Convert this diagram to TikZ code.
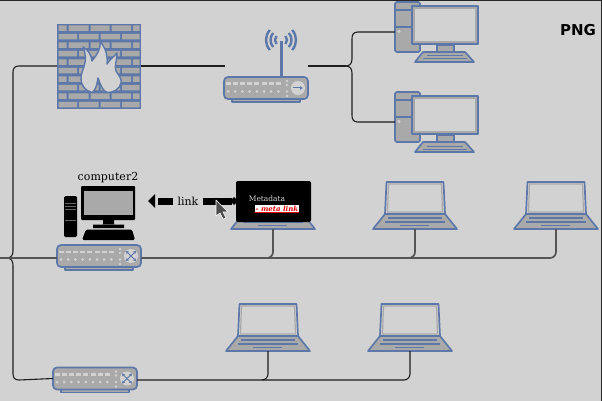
\documentclass[tikz,border=0pt]{standalone}
\usepackage{fontspec}
\setmainfont{DejaVu Serif}
\newfontfamily\labelsans{DejaVu Sans}
\usetikzlibrary{positioning,calc,arrows.meta}

\definecolor{bgGray}{HTML}{D2D2D2}
\definecolor{devBlue}{HTML}{5D78A8}
\definecolor{devFill}{HTML}{A9A9A9}
\definecolor{wireDark}{HTML}{1E1E1E}
\definecolor{wireGray}{HTML}{555555}

\tikzset{
  devline/.style={draw=devBlue, line width=1.7pt, line join=round},
  devbody/.style={devline, fill=devFill},
  devscreen/.style={draw=devFill, line width=1.2pt, fill=bgGray},
  hitbox/.style={inner sep=0pt, outer sep=0pt},
  % laptop: origin is the middle of the lower edge
  pics/laptop/.style={code={
    \node[hitbox, minimum width=84pt, minimum height=47pt] (-box) at (0,-23.5) {};
    \draw[devline, fill=bgGray] (-28.5,-47) -- (28.5,-47) -- (30,-15) -- (-30,-15) -- cycle;
    \draw[devscreen] (-26.5,-45) -- (26.5,-45) -- (27.5,-17) -- (-27.5,-17) -- cycle;
    \draw[devbody] (-30,-15) -- (30,-15) -- (42,0) -- (-42,0) -- cycle;
    \draw[draw=devBlue, line width=1.2pt] (-27,-11) -- (27,-11) (-30,-7) -- (30,-7) (-15,-3.5) -- (14,-3.5);
  }},
  % desktop: origin is the top left of the tower
  pics/desktop/.style={code={
    \node[hitbox, minimum width=84pt, minimum height=60pt] (-box) at (42,30) {};
    \draw[devbody, rounded corners=1.5pt] (0,0) -- (25,0) -- (25,50) -- (0,50) -- cycle;
    \draw[devline] (0,8) -- (25,8) (0,25) -- (25,25);
    \fill[bgGray] (4,29.5) circle (1.6);
    \draw[devline, fill=bgGray] (17,4) rectangle (83,42);
    \draw[devscreen] (19,6) rectangle (81,40);
    \draw[devbody] (42,43) rectangle (59,50);
    \draw[devbody] (28,50) -- (70,50) -- (79,60) -- (20,60) -- cycle;
    \draw[draw=devBlue, line width=1pt] (32,54) -- (68,54) (28,57) -- (72,57);
  }},
  % rack device without its icon: origin is the middle of the body
  pics/rackdev/.style={code={
    \node[hitbox, minimum width=84pt, minimum height=26pt] (-box) at (0,0) {};
    \draw[devbody] (-34,10) rectangle (34,14);
    \draw[devbody, rounded corners=4pt] (-42,-11) rectangle (42,11);
    \foreach \i in {0,...,7} {
      \fill[bgGray] ({-38+7.2*\i-2.5},-5.5) rectangle ++(5,2.5);
      \fill[bgGray] ({-38+7.2*\i},3.5) circle (1.5);
    }
    \foreach \j in {-7,-3,3.5,8} \fill[bgGray] (21,\j) circle (1.4);
    \fill[bgGray] (32,0) circle (7);
  }},
  pics/hubcross/.style={code={
    \draw[draw=devBlue, line width=1pt, {Latex[length=2.5pt,width=3.5pt]}-{Latex[length=2.5pt,width=3.5pt]}] (-5,-5) -- (5,5);
    \draw[draw=devBlue, line width=1pt, {Latex[length=2.5pt,width=3.5pt]}-{Latex[length=2.5pt,width=3.5pt]}] (-5,5) -- (5,-5);
  }}
}

\begin{document}
\begin{tikzpicture}[
  x=1pt, y=-1pt,
  wire/.style={draw=wireDark, line width=1.1pt, rounded corners=6pt},
  bracewire/.style={draw=wireDark, line width=1.1pt},
  lanwire/.style={draw=wireGray, line width=1.7pt, rounded corners=6pt},
  linkbar/.style={draw=black, line width=7pt},
  tag/.style={font=\fontsize{11}{13}\selectfont, text=black, inner sep=0pt}
]
  \useasboundingbox (0,0) rectangle (602,401);
  \fill[bgGray] (0,0) rectangle (602,401);
  \fill[black!85] (0,0) rectangle (602,1.5);
  \fill[black!85] (600.5,0) rectangle (602,401);

  % firewall
  \node[hitbox, minimum width=84pt, minimum height=85pt] (wall) at (99,66) {};
  \fill[devBlue] (57,24) rectangle (141,109);
  \foreach \r in {0,2,4,6,8} {
    \fill[devFill, yshift=-\r*8.5pt] (58.5,25.5) rectangle (66.5,31)
      (68.5,25.5) rectangle (88.5,31) (90.5,25.5) rectangle (109.5,31)
      (111.5,25.5) rectangle (131,31) (133,25.5) rectangle (139.5,31);
    \fill[devFill, yshift=-\r*8.5pt] (58.5,34) rectangle (77,39.5)
      (79,34) rectangle (98.5,39.5) (100.5,34) rectangle (120,39.5)
      (122,34) rectangle (139.5,39.5);
  }
  \draw[devline, fill=bgGray, line width=1.4pt] (92,92.5) .. controls (85,91) and (80,84) .. (81,77)
    .. controls (82,68) and (89,62) .. (83,47)
    .. controls (88,50) and (91,54) .. (92,61)
    .. controls (97,54) and (101,50) .. (100,41)
    .. controls (106,49) and (108,56) .. (107,64)
    .. controls (110,59) and (114,57) .. (117,53)
    .. controls (117,61) and (114,66) .. (116,71)
    .. controls (119,76) and (122,79) .. (121,83)
    .. controls (120,89) and (113,93) .. (107,92.5)
    .. controls (103,91) and (101,86) .. (98,78)
    .. controls (97,84) and (96,90) .. (92,92.5) -- cycle;

  % router
  \pic (router) at (266,88) {rackdev};
  \draw[draw=devBlue, line width=1pt, -{Latex[length=3pt,width=4pt]}] (293,88) -- (303,88);
  \draw[devline, line width=3pt] (281,41) -- (281,77);
  \foreach \a in {6,10.5,15} {
    \draw[draw=devBlue, line width=2.4pt] (281,40) ++(-42:\a) arc (-42:42:\a);
    \draw[draw=devBlue, line width=2.4pt] (281,40) ++(138:\a) arc (138:222:\a);
  }

  \pic (deskA) at (395,2) {desktop};
  \pic (deskB) at (395,92) {desktop};

  % computer2
  \node[hitbox, minimum width=72pt, minimum height=52pt] (comp) at (100,214) {};
  \fill[black, rounded corners=1.5pt] (64,196) rectangle (77,237);
  \draw[draw=black!60, line width=.7pt] (65,203) -- (76,203) (65,206) -- (76,206) (65,209) -- (76,209) (65,220) -- (76,220);
  \fill[black, rounded corners=1pt] (81,186) rectangle (135,220);
  \fill[devFill] (84,191) rectangle (133,215);
  \fill[black] (103,220) rectangle (114,225) (93,224.5) -- (124,224.5) -- (124,228) -- (93,228) -- cycle;
  \fill[black, rounded corners=1.5pt] (86,229.5) -- (132,229.5) -- (135,240) -- (82,240) -- cycle;
  \node[tag] (comptag) at (108,178) {computer2};

  \pic (lapA) at (273,229) {laptop};
  \fill[black, rounded corners=2pt] (236,181) rectangle (311,222);
  \node[font=\fontsize{7.5}{9}\selectfont, text=bgGray, inner sep=0pt] (metatag) at (267,198.5) {Metadata};
  \node[fill=white, inner sep=0pt, minimum width=44pt, minimum height=8pt,
    text=red!90!black, font=\fontsize{7}{8}\selectfont\bfseries\itshape] (metalink) at (277,208.5) {- meta link};
  \draw[draw=red!90!black, line width=1pt] (metalink.south west) -- (metalink.south east);
  \pic (lapB) at (415,229) {laptop};
  \pic (lapC) at (556,229) {laptop};
  \pic (lapD) at (268,351) {laptop};
  \pic (lapE) at (410,351) {laptop};

  % link between the laptop and computer2
  \node[tag] (linktag) at (188,201) {link};
  \coordinate (linkend) at (158,201);
  \draw[linkbar] (linktag.west) ++(-4,0) -- (linkend);
  \draw[linkbar] (linktag.east) ++(4,0) -- (232,201);
  \fill[black] (155,194) -- (155,208) -- (148,201) -- cycle;
  \fill[black] (230,201) -- (234,197) -- (238,201) -- (234,205) -- cycle;

  \pic (hubA) at (99,256) {rackdev};
  \pic at (131,256) {hubcross};
  \pic (hubB) at (95,378.5) {rackdev};
  \pic at (127,378.5) {hubcross};

  % connectors
  \coordinate (tipL) at (7,258);
  \coordinate (tipR) at (346,66);
  \draw[wire] (wall.east) -- (225,66);
  \draw[wire] (308,66) -- (tipR);
  \draw[bracewire] (deskA-box.west) -- (358,32) .. controls (353,32) and (352,35) .. (352,39) -- (352,59)
    .. controls (352,63) and (350,66) .. (tipR);
  \draw[bracewire] (deskB-box.west) -- (358,122) .. controls (353,122) and (352,119) .. (352,115) -- (352,73)
    .. controls (352,69) and (350,66) .. (tipR);
  \draw[bracewire] (wall.west) -- (19,66) .. controls (15,66) and (13,68) .. (13,72) -- (13,251)
    .. controls (13,255) and (11,258) .. (tipL);
  \draw[bracewire] (hubB-box.west) -- (19,380) .. controls (15,380) and (13,378) .. (13,374) -- (13,265)
    .. controls (13,261) and (11,258) .. (tipL);
  \draw[lanwire, rounded corners=0pt] (0,258) -- (hubA-box.west |- 0,258);
  \draw[lanwire] (141,258) -| (lapC-box.south);
  \draw[lanwire] (267,258) -| (lapA-box.south);
  \draw[lanwire] (409,258) -| (lapB-box.south);
  \draw[wire] (137,380) -| (lapE-box.south);
  \draw[wire] (262,380) -| (lapD-box.south);

  % pointer
  \draw[draw=white, line width=.6pt, fill=black!70, line join=round] (216,200) -- (216,216) -- (220,213) -- (223,219) -- (226,218) -- (223,212) -- (228,212) -- cycle;

  \node[font=\labelsans\bfseries\fontsize{15}{17}\selectfont, inner sep=0pt] (pngtag) at (578,30) {PNG};
\end{tikzpicture}
\end{document}
